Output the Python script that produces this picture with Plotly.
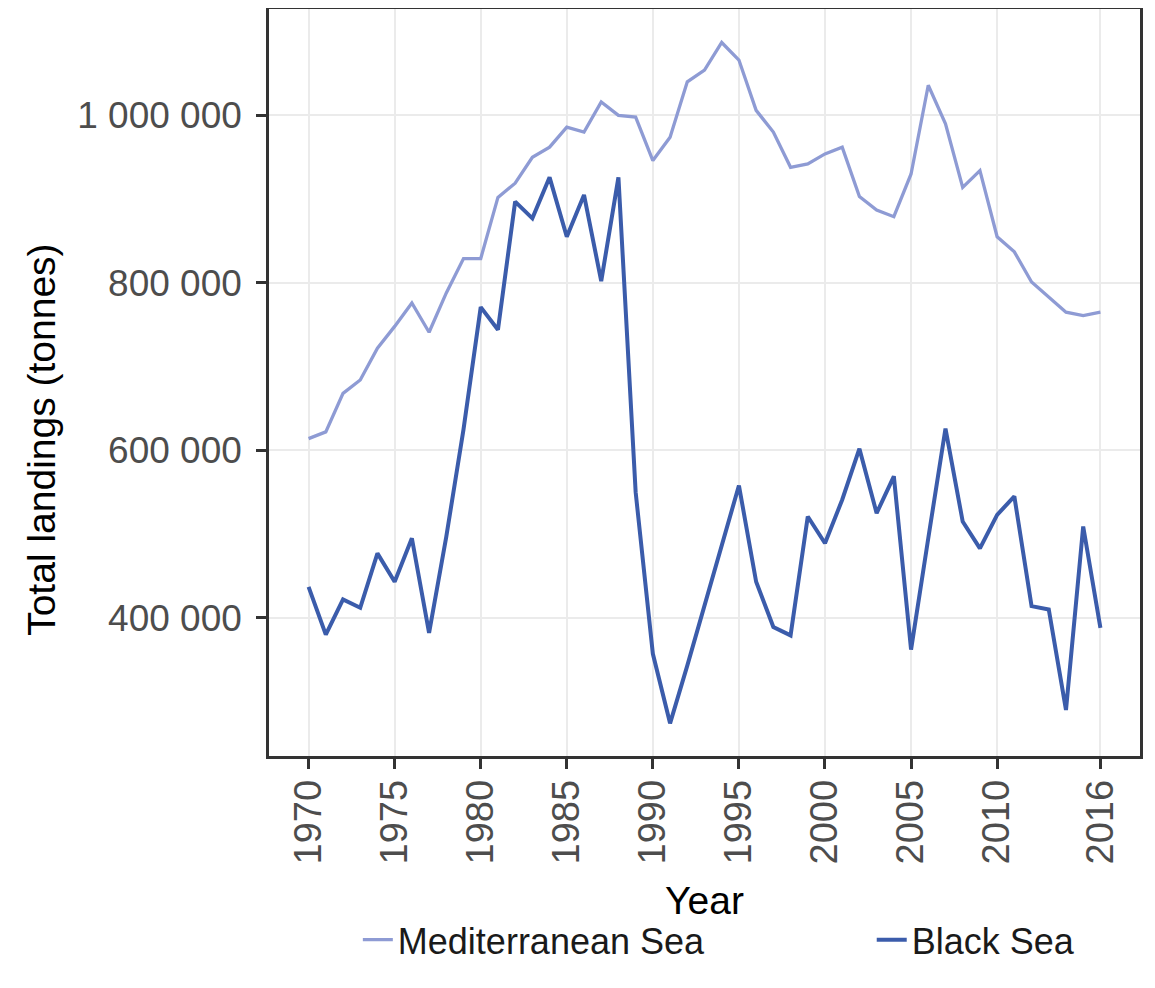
import plotly.graph_objects as go

years = list(range(1970, 2017))

mediterranean = [614000, 622000, 668000, 684000, 722000, 748000, 776000, 741000, 788000, 829000,
                 829000, 902000, 919000, 950000, 962000, 986000, 980000, 1016000, 1000000, 998000,
                 946000, 974000, 1040000, 1054000, 1087000, 1066000, 1006000, 980000, 938000, 942000,
                 954000, 962000, 903000, 887000, 879000, 930000, 1036000, 990000, 914000, 934000,
                 855000, 837000, 801000, 783000, 765000, 761000, 765000]

black_sea = [437000, 380000, 422000, 412000, 477000, 443000, 495000, 382000, 497000, 625000,
             771000, 744000, 897000, 877000, 926000, 855000, 905000, 802000, 926000, 550000,
             357000, 274000, 343000, 416000, 489000, 558000, 443000, 389000, 379000, 521000,
             489000, 541000, 602000, 525000, 569000, 362000, 495000, 626000, 515000, 483000,
             523000, 545000, 414000, 410000, 290000, 509000, 388000]

x_tickvals = [1970, 1975, 1980, 1985, 1990, 1995, 2000, 2005, 2010, 2016]
y_tickvals = [400000, 600000, 800000, 1000000]

FONT = "Liberation Sans, Arial, sans-serif"

fig = go.Figure()
fig.add_trace(go.Scatter(x=years, y=mediterranean, mode="lines", name="Mediterranean Sea",
                         line=dict(color="#8E9BD4", width=3.3), legend="legend"))
fig.add_trace(go.Scatter(x=years, y=black_sea, mode="lines", name="Black Sea",
                         line=dict(color="#3B5CAB", width=4), legend="legend2"))

axis_common = dict(
    showline=True, mirror=True, linecolor="#333333", linewidth=2.5,
    ticks="outside", ticklen=10, tickwidth=2.5, tickcolor="#333333",
    showgrid=True, gridcolor="#EBEBEB", gridwidth=2,
    zeroline=False, automargin=False,
)

legend_common = dict(orientation="h", y=-0.246, yanchor="middle", xanchor="left",
                     font=dict(family=FONT, size=36, color="#1A1A1A"),
                     bgcolor="rgba(0,0,0,0)", borderwidth=0)

fig.update_layout(
    width=1155, height=988,
    paper_bgcolor="white", plot_bgcolor="white",
    separators=". ",
    margin=dict(l=261, r=23, t=1, b=240, autoexpand=False),
    font=dict(family=FONT, color="#000000"),
    xaxis=dict(range=[1967.7, 2018.3], tickvals=x_tickvals, tickangle=-90, ticklabelstandoff=-4,
               tickfont=dict(family=FONT, size=38, color="#4D4D4D"),
               title=dict(text="Year", font=dict(family=FONT, size=39, color="#000000"), standoff=24),
               **axis_common),
    yaxis=dict(range=[235000, 1127000], tickvals=y_tickvals, tickformat=",d", ticklabelstandoff=7,
               tickfont=dict(family=FONT, size=37, color="#4D4D4D"),
               **axis_common),
    annotations=[dict(text="Total landings (tonnes)", xref="paper", yref="paper",
                      x=-0.262, y=0.423, xanchor="center", yanchor="middle", textangle=-90,
                      showarrow=False, font=dict(family=FONT, size=39, color="#000000"))],
    legend=dict(x=0.102, **legend_common),
    legend2=dict(x=0.692, **legend_common),
    showlegend=True,
)

fig.write_html("out.html")
